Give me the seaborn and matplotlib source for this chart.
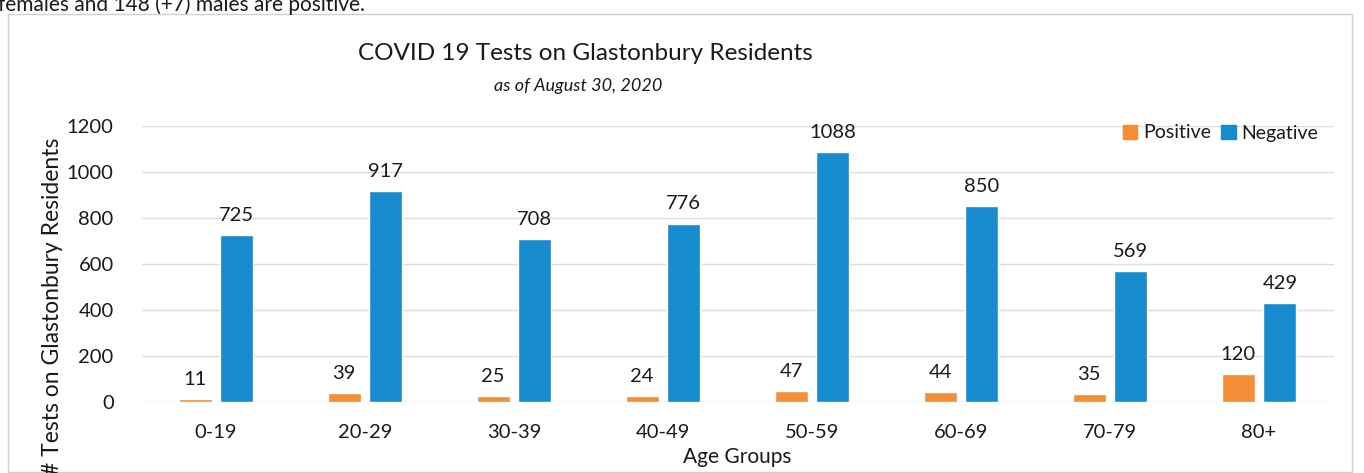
import matplotlib
matplotlib.use("Agg")
import matplotlib.pyplot as plt
import matplotlib.patches as mpatches
import seaborn as sns
import pandas as pd

# Test counts by age group
age_groups = ["0-19", "20-29", "30-39", "40-49", "50-59", "60-69", "70-79", "80+"]
positive = [11, 39, 25, 24, 47, 44, 35, 120]
negative = [725, 917, 708, 776, 1088, 850, 569, 429]
y_ticks = [0, 200, 400, 600, 800, 1000, 1200]

series_names = ["Positive", "Negative"]
colors = {"Positive": "#F68D37", "Negative": "#168BCE"}
text_color = "#1A1A1A"

df = pd.DataFrame({
    "Age Groups": age_groups * 2,
    "Result": ["Positive"] * len(age_groups) + ["Negative"] * len(age_groups),
    "Tests": positive + negative,
})

sns.set_theme(style="white")
plt.rcParams["font.family"] = ["Lato", "DejaVu Sans"]

W, H = 1364, 473
fig = plt.figure(figsize=(W / 100, H / 100), dpi=100)
fig.patch.set_facecolor("white")

# axes rectangle in pixel terms
left_px, right_px, top_px, bottom_px = 141.5, 1333.5, 126, 402
ax = fig.add_axes([left_px / W, (H - bottom_px) / H,
                   (right_px - left_px) / W, (bottom_px - top_px) / H])

sns.barplot(data=df, x="Age Groups", y="Tests", hue="Result",
            hue_order=series_names, order=age_groups, palette=colors,
            width=0.56, gap=0.21, saturation=1, legend=False, ax=ax)

ax.set_ylim(0, 1200)
ax.set_xlim(-0.5, len(age_groups) - 0.5)
ax.set_yticks(y_ticks)
ax.yaxis.grid(True, color="#DEDEDE", linewidth=1)
ax.set_axisbelow(True)
for s in ax.spines.values():
    s.set_visible(False)
ax.tick_params(axis="y", length=0, pad=20, labelsize=14.5, labelcolor=text_color)
ax.tick_params(axis="x", length=0, pad=16, labelsize=14.5, labelcolor=text_color)
ax.set_xlabel("Age Groups", fontsize=15, color=text_color, labelpad=4)
ax.set_ylabel("")

# value labels above each bar
for container in ax.containers:
    ax.bar_label(container, fmt="%d", padding=8, fontsize=14.5,
                 color=text_color, clip_on=False)

# legend in one row at top right
handles = [mpatches.Patch(color=colors[n], label=n) for n in series_names]
ax.legend(handles=handles, ncol=2, frameon=False, loc="center right",
          bbox_to_anchor=(1328 / W, (H - 133) / H), bbox_transform=fig.transFigure,
          fontsize=14, handlelength=0.75, handleheight=0.75, handletextpad=0.3,
          columnspacing=0.5, labelcolor=text_color, borderpad=0)

# titles
fig.text(585 / W, (H - 53) / H, "COVID 19 Tests on Glastonbury Residents",
         ha="center", va="center", fontsize=17.5, color=text_color)
fig.text(578 / W, (H - 86) / H, "as of August 30, 2020",
         ha="center", va="center", fontsize=13, style="italic", color=text_color)

# y-axis title
fig.text(53 / W, (H - 306) / H, "# Tests on Glastonbury Residents",
         ha="center", va="center", rotation=90, fontsize=16.5, color=text_color)

# preceding line of the report text
fig.text(-2 / W, (H - 11) / H, "females and 148 (+7) males are positive.",
         ha="left", va="baseline", fontsize=15, color=text_color)

# chart frame
fig.patches.append(mpatches.Rectangle((8 / W, (H - 472) / H), (1352 - 8) / W, (472 - 14) / H,
                                      transform=fig.transFigure, fill=False,
                                      edgecolor="#D0D0D0", linewidth=1))

fig.savefig("out.png", dpi=100)
